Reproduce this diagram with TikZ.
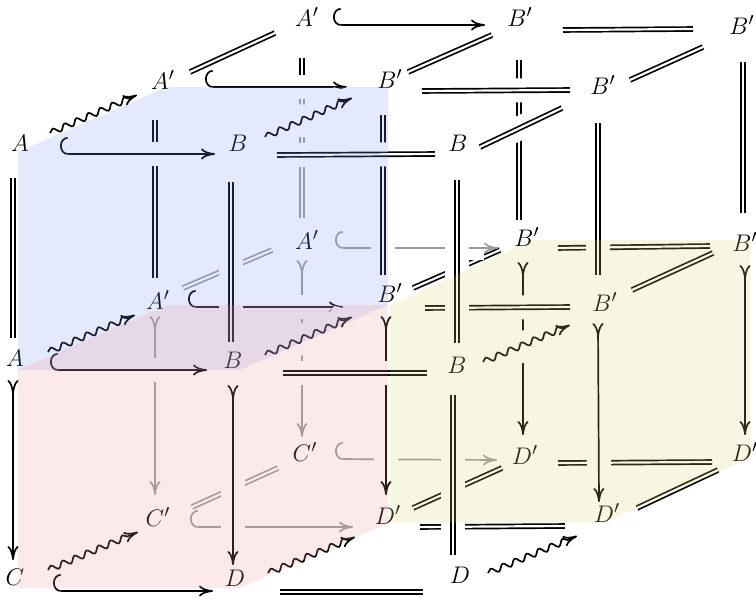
\documentclass[tikz,border=0pt]{standalone}
\usetikzlibrary{arrows.meta,decorations.pathmorphing}
\definecolor{bluef}{RGB}{125,145,240}
\definecolor{pinkf}{RGB}{240,150,150}
\definecolor{yellowf}{RGB}{215,215,105}
\definecolor{hid}{RGB}{155,155,155}
\tikzset{
  tipa/.tip={Computer Modern Rightarrow[length=7pt,width=5.5pt]},
  cn/.style={line width=0.85pt, preaction={draw=white, line width=12pt, arrows=-, shorten <=7pt, shorten >=7pt}},
  eqline/.style={cn, double, double distance=1.1pt},
  hk/.style={cn, {Hooks[right,arc=180,length=3.8pt,width=17pt]}-tipa},
  tl/.style={cn, {Computer Modern Rightarrow[length=7pt,width=5.5pt,reversed]}-tipa},
  wv/.style={line width=0.85pt, -tipa, decorate, decoration={snake, amplitude=1.5pt, segment length=6.5pt, post length=3pt}},
  wvh/.style={wv, preaction={draw=white, line width=12pt, arrows=-}},
  hidden/.style={draw=hid},
  obj/.style={inner sep=0pt, font=\fontsize{13}{15}\selectfont}
}
\newcommand\cnx[5]{\draw[#1] ([shift={(#3)}]#2.center) -- ([shift={(#5)}]#4.center);}
\begin{document}
\begin{tikzpicture}[x=0.5pt,y=-0.5pt]
\useasboundingbox (0,0) rectangle (756,600);
\clip (0,0) rectangle (756,600);
% nodes: n<depth><row><col>
\node[obj] (n000) at (20,143) {$A$};
\node[obj] (n001) at (238,143) {$B$};
\node[obj] (n002) at (458,143) {$B$};
\node[obj] (n010) at (15,358) {$A$};
\node[obj] (n011) at (233,360) {$B$};
\node[obj] (n012) at (457,365) {$B$};
\node[obj] (n020) at (15,577) {$C$};
\node[obj] (n021) at (235,578) {$D$};
\node[obj] (n022) at (460,575) {$D$};
\node[obj] (n100) at (163,80) {$A'$};
\node[obj] (n101) at (390,79) {$B'$};
\node[obj] (n102) at (603,85) {$B'$};
\node[obj] (n110) at (158,300) {$A'$};
\node[obj] (n111) at (390,293) {$B'$};
\node[obj] (n112) at (605,302) {$B'$};
\node[obj] (n120) at (158,517) {$C'$};
\node[obj] (n121) at (388,515) {$D'$};
\node[obj] (n122) at (607,513) {$D'$};
\node[obj] (n200) at (307,17) {$A'$};
\node[obj] (n201) at (520,17) {$B'$};
\node[obj] (n202) at (742,25) {$B'$};
\node[obj] (n210) at (307,240) {$A'$};
\node[obj] (n211) at (527,237) {$B'$};
\node[obj] (n212) at (745,242) {$B'$};
\node[obj] (n220) at (305,452) {$C'$};
\node[obj] (n221) at (525,455) {$D'$};
\node[obj] (n222) at (745,452) {$D'$};
% ---- depth 1 -> depth 2
\cnx{eqline}{n100}{27,-8}{n200}{-32,16}
\cnx{eqline}{n101}{18,-7}{n201}{-28,18}
\cnx{eqline}{n102}{27,-5}{n202}{-39,22}
\cnx{eqline,hidden}{n110}{25,-12}{n210}{-35,10}
\cnx{eqline}{n111}{23,-5}{n211}{-27,13}
\cnx{eqline}{n112}{27,-12}{n212}{-32,11}
\cnx{eqline,hidden}{n120}{34,-10}{n220}{-27,16}
\cnx{eqline}{n121}{25,-7}{n221}{-23,13}
\cnx{eqline}{n122}{30,-5}{n222}{-27,18}
% ---- back layer (depth 2)
\cnx{eqline,hidden}{n200}{-5,41}{n210}{-5,-22}
\cnx{eqline}{n200}{-5,41}{n210}{-5,-158}
\cnx{tl,hidden}{n210}{-5,20}{n220}{-3,-15}
\cnx{eqline}{n201}{-1,43}{n211}{-8,-17}
\cnx{tl}{n211}{-4,25}{n221}{-2,-20}
\cnx{eqline}{n202}{1,37}{n212}{-2,-29}
\cnx{tl}{n212}{0,23}{n222}{0,-17}
\cnx{hk}{n200}{26,8}{n201}{-35,8}
\cnx{eqline}{n201}{43,13}{n202}{-49,4}
\cnx{hk,hidden}{n210}{28,8}{n211}{-29,11}
\cnx{eqline}{n211}{31,11}{n212}{-35,4}
\cnx{hk,hidden}{n220}{30,7}{n221}{-28,5}
\cnx{eqline}{n221}{33,8}{n222}{-33,10}
% ---- middle layer (depth 1)
\cnx{hk}{n100}{42,7}{n101}{-43,8}
\cnx{eqline}{n101}{32,12}{n102}{-33,5}
\cnx{hk}{n110}{30,7}{n111}{-47,14}
\cnx{eqline}{n111}{35,15}{n112}{-35,5}
\cnx{hk,hidden}{n120}{32,10}{n121}{-35,12}
\cnx{eqline}{n121}{32,12}{n122}{-42,13}
\cnx{eqline}{n100}{-8,40}{n110}{-3,-22}
\cnx{tl,hidden}{n110}{-3,16}{n120}{-3,-22}
\cnx{eqline}{n101}{-7,36}{n111}{-7,-18}
\cnx{tl}{n111}{-4,23}{n121}{-2,-20}
\cnx{eqline}{n102}{-5,38}{n112}{-7,-27}
\cnx{tl}{n112}{-7,21}{n122}{-8,-11}
% ---- depth 0 -> depth 1
\cnx{wv}{n000}{30,-10}{n100}{-26,15}
\cnx{wvh}{n001}{27,-6}{n101}{-38,19}
\cnx{eqline}{n002}{22,4}{n102}{-41,23}
\cnx{wv}{n010}{33,-6}{n110}{-23,15}
\cnx{wvh}{n011}{32,-5}{n111}{-38,24}
\cnx{wvh}{n012}{26,-3}{n112}{-35,23}
\cnx{wv}{n020}{33,-7}{n120}{-20,15}
\cnx{wv}{n021}{33,-5}{n121}{-33,22}
\cnx{wv}{n022}{28,-2}{n122}{-30,23}
% ---- front layer (depth 0)
\cnx{hk}{n000}{40,11}{n001}{-23,11}
\cnx{eqline}{n001}{39,12}{n002}{-23,11}
\cnx{hk}{n010}{35,12}{n011}{-26,10}
\cnx{eqline}{n011}{50,13}{n012}{-30,8}
\cnx{hk}{n020}{38,14}{n021}{-22,13}
\cnx{eqline}{n021}{45,14}{n022}{-37,17}
\cnx{eqline}{n000}{-7,35}{n010}{-2,-20}
\cnx{tl}{n010}{-2,22}{n020}{-2,-17}
\cnx{eqline}{n001}{-7,39}{n011}{-2,-18}
\cnx{tl}{n011}{0,25}{n021}{-2,-13}
\cnx{eqline}{n002}{-1,37}{n012}{0,-22}
\cnx{eqline}{n012}{-4,30}{n022}{-7,-20}
% ---- translucent faces
\fill[bluef, fill opacity=0.2] (18,152) -- (167,87) -- (388,87) -- (388,305) -- (240,370) -- (18,370) -- cycle;
\fill[pinkf, fill opacity=0.2] (18,370) -- (167,305) -- (388,305) -- (388,523) -- (240,588) -- (18,588) -- cycle;
\fill[yellowf, fill opacity=0.2] (390,305) -- (534,240) -- (750,240) -- (750,458) -- (603,523) -- (390,523) -- cycle;
\end{tikzpicture}
\end{document}
